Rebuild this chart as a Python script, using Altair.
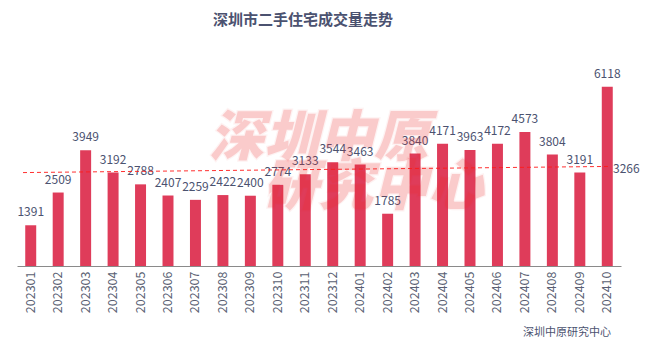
import altair as alt
import pandas as pd

months = ["202301", "202302", "202303", "202304", "202305", "202306", "202307", "202308",
          "202309", "202310", "202311", "202312", "202401", "202402", "202403", "202404",
          "202405", "202406", "202407", "202408", "202409", "202410"]
volumes = [1391, 2509, 3949, 3192, 2788, 2407, 2259, 2422, 2400, 2774, 3133, 3544,
           3463, 1785, 3840, 4171, 3963, 4172, 4573, 3804, 3191, 6118]
avg_label = "3266"
avg_line_start = 3190
avg_line_end = 3400

title_text = "深圳市二手住宅成交量走势"
source_text = "深圳中原研究中心"
watermark_lines = ["深圳中原", "研究中心"]

FONT = "Noto Sans CJK SC"
TEXT_COLOR = "#4b5270"
BAR_COLOR = "#df3c5a"

df = pd.DataFrame({"month": months, "volume": volumes})
avg_df = pd.DataFrame({"start": [avg_line_start], "end": [avg_line_end], "label": [avg_label]})

x_enc = alt.X("month:N", sort=months, title=None,
              scale=alt.Scale(paddingInner=0.6, paddingOuter=0.3),
              axis=alt.Axis(labelAngle=-90, ticks=False, labelPadding=5,
                            labelFontSize=12.5, labelColor="#5a5f73", labelFont=FONT,
                            domainColor="#8a8a8a", grid=False))
y_scale = alt.Scale(domain=[0, 7000])

bars = alt.Chart(df).mark_bar(color=BAR_COLOR).encode(
    x=x_enc,
    y=alt.Y("volume:Q", scale=y_scale, axis=None),
)

labels = alt.Chart(df).mark_text(baseline="alphabetic", dy=-9, fontSize=12,
                                 font=FONT, color=TEXT_COLOR).encode(
    x=alt.X("month:N", sort=months),
    y=alt.Y("volume:Q", scale=y_scale),
    text="volume:Q",
)

avg_line = alt.Chart(avg_df).mark_rule(color="#ff1a1a", strokeDash=[4, 3],
                                       strokeWidth=1, opacity=0.9).encode(
    x=alt.value(6), x2=alt.value(593),
    y=alt.Y("start:Q", scale=y_scale), y2="end:Q",
)

avg_text = alt.Chart(avg_df).mark_text(align="left", baseline="middle", dy=3,
                                       fontSize=12, font=FONT, color=TEXT_COLOR).encode(
    x=alt.value(596),
    y=alt.Y("end:Q", scale=y_scale),
    text="label:N",
)

wm_df = pd.DataFrame({"t": watermark_lines, "px": [192, 246], "py": [78, 127]})
watermark = alt.Chart(wm_df).mark_text(align="left", baseline="middle", fontSize=55,
                                       font=FONT, fontWeight=900, fontStyle="italic",
                                       color="#ee2a2a", opacity=0.24,
                                       stroke="#ee2a2a", strokeWidth=2.5, strokeOpacity=0.24).encode(
    x=alt.X("px:Q", scale=None), y=alt.Y("py:Q", scale=None), text="t:N",
)

source = alt.Chart(pd.DataFrame({"t": [source_text]})).mark_text(
    align="left", baseline="middle", fontSize=11, font=FONT, color=TEXT_COLOR).encode(
    x=alt.value(506), y=alt.value(272), text="t:N",
)

chart = alt.layer(bars, labels, avg_line, avg_text, watermark, source).properties(
    width=604, height=205,
    title=alt.Title(title_text, anchor="start", dx=196, offset=21, baseline="alphabetic",
                    fontSize=15, fontWeight="bold", font=FONT, color=TEXT_COLOR),
    autosize=alt.AutoSizeParams(type="none"),
    padding={"left": 17, "top": 61, "right": 27, "bottom": 86},
).configure_view(stroke=None)

chart.save("out.html", embed_options={"renderer": "svg", "actions": False})
